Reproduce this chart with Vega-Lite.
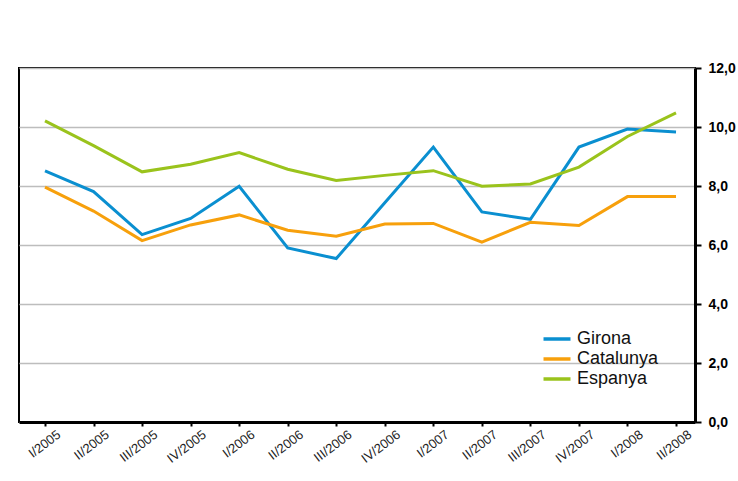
{
  "$schema": "https://vega.github.io/schema/vega-lite/v6.json",
  "width": 676,
  "height": 354,
  "autosize": {"type": "none"},
  "padding": {"left": 19, "top": 68, "right": 43, "bottom": 59},
  "background": "white",
  "config": {"view": {"stroke": "#000000", "strokeWidth": 2}},
  "data": {"values": [
    {"period": "I/2005", "region": "Girona", "value": 8.51},
    {"period": "II/2005", "region": "Girona", "value": 7.81},
    {"period": "III/2005", "region": "Girona", "value": 6.35},
    {"period": "IV/2005", "region": "Girona", "value": 6.90},
    {"period": "I/2006", "region": "Girona", "value": 7.99},
    {"period": "II/2006", "region": "Girona", "value": 5.90},
    {"period": "III/2006", "region": "Girona", "value": 5.54},
    {"period": "IV/2006", "region": "Girona", "value": 7.43},
    {"period": "I/2007", "region": "Girona", "value": 9.32},
    {"period": "II/2007", "region": "Girona", "value": 7.12},
    {"period": "III/2007", "region": "Girona", "value": 6.87},
    {"period": "IV/2007", "region": "Girona", "value": 9.32},
    {"period": "I/2008", "region": "Girona", "value": 9.93},
    {"period": "II/2008", "region": "Girona", "value": 9.83},
    {"period": "I/2005", "region": "Catalunya", "value": 7.96},
    {"period": "II/2005", "region": "Catalunya", "value": 7.15},
    {"period": "III/2005", "region": "Catalunya", "value": 6.15},
    {"period": "IV/2005", "region": "Catalunya", "value": 6.68},
    {"period": "I/2006", "region": "Catalunya", "value": 7.02},
    {"period": "II/2006", "region": "Catalunya", "value": 6.50},
    {"period": "III/2006", "region": "Catalunya", "value": 6.30},
    {"period": "IV/2006", "region": "Catalunya", "value": 6.71},
    {"period": "I/2007", "region": "Catalunya", "value": 6.73},
    {"period": "II/2007", "region": "Catalunya", "value": 6.10},
    {"period": "III/2007", "region": "Catalunya", "value": 6.77},
    {"period": "IV/2007", "region": "Catalunya", "value": 6.66},
    {"period": "I/2008", "region": "Catalunya", "value": 7.64},
    {"period": "II/2008", "region": "Catalunya", "value": 7.64},
    {"period": "I/2005", "region": "Espanya", "value": 10.21},
    {"period": "II/2005", "region": "Espanya", "value": 9.37},
    {"period": "III/2005", "region": "Espanya", "value": 8.48},
    {"period": "IV/2005", "region": "Espanya", "value": 8.74},
    {"period": "I/2006", "region": "Espanya", "value": 9.13},
    {"period": "II/2006", "region": "Espanya", "value": 8.57},
    {"period": "III/2006", "region": "Espanya", "value": 8.19},
    {"period": "IV/2006", "region": "Espanya", "value": 8.36},
    {"period": "I/2007", "region": "Espanya", "value": 8.52},
    {"period": "II/2007", "region": "Espanya", "value": 7.99},
    {"period": "III/2007", "region": "Espanya", "value": 8.07},
    {"period": "IV/2007", "region": "Espanya", "value": 8.64},
    {"period": "I/2008", "region": "Espanya", "value": 9.68},
    {"period": "II/2008", "region": "Espanya", "value": 10.48}
  ]},
  "mark": {"type": "line", "strokeWidth": 3},
  "encoding": {
    "x": {
      "field": "period",
      "type": "ordinal",
      "sort": null,
      "scale": {"type": "point", "padding": 0.4635, "align": 0.578},
      "axis": {
        "title": null,
        "labelAngle": -37,
        "labelAlign": "right",
        "labelBaseline": "top",
        "labelOffset": 10,
        "labelPadding": 2,
        "labelFont": "Liberation Sans",
        "labelFontSize": 13,
        "labelColor": "#222222",
        "domainColor": "#000000",
        "domainWidth": 3,
        "tickColor": "#000000",
        "tickWidth": 2,
        "tickSize": 4,
        "grid": false
      }
    },
    "y": {
      "field": "value",
      "type": "quantitative",
      "scale": {"domain": [0, 12], "nice": false, "zero": true},
      "axis": {
        "orient": "right",
        "title": null,
        "values": [0, 2, 4, 6, 8, 10, 12],
        "labelExpr": "replace(format(datum.value, '.1f'), '.', ',')",
        "labelFont": "Liberation Sans",
        "labelFontWeight": "bold",
        "labelFontSize": 14,
        "labelColor": "#000000",
        "labelPadding": 7,
        "domainColor": "#000000",
        "domainWidth": 3,
        "tickColor": "#000000",
        "tickWidth": 2,
        "tickSize": 6,
        "grid": true,
        "gridColor": "#BDBDBD",
        "gridWidth": 1.5
      }
    },
    "color": {
      "field": "region",
      "type": "nominal",
      "sort": ["Girona", "Catalunya", "Espanya"],
      "scale": {"domain": ["Girona", "Catalunya", "Espanya"], "range": ["#0A8FD0", "#F7A00C", "#9AC31C"]},
      "legend": {
        "title": null,
        "orient": "none",
        "legendX": 529,
        "legendY": 262,
        "padding": 0,
        "symbolType": "M-2,0H2",
        "symbolSize": 182,
        "symbolStrokeWidth": 3.5,
        "labelFont": "Liberation Sans",
        "labelFontSize": 18,
        "labelColor": "#111111",
        "labelOffset": 11,
        "rowPadding": 2
      }
    }
  }
}
